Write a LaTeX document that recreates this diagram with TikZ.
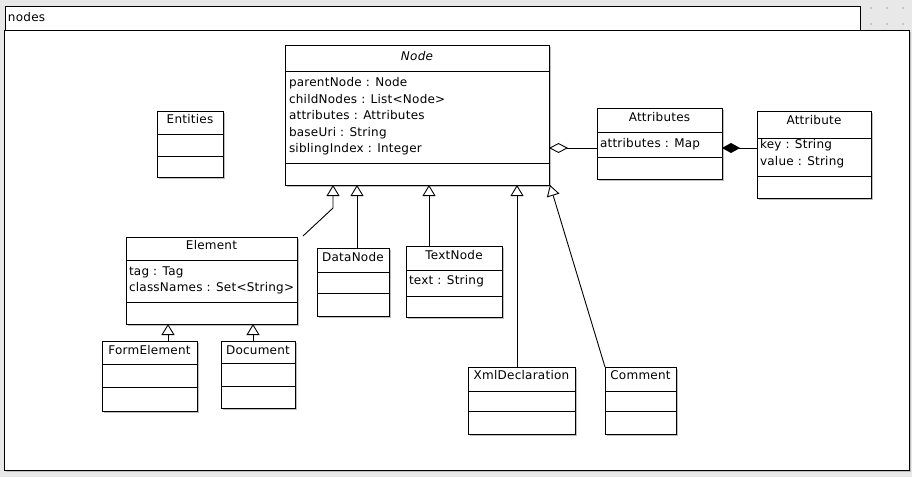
\documentclass[tikz,border=0pt]{standalone}
\usepackage{fontspec}
\setmainfont[LetterSpace=2]{DejaVu Sans}
\usetikzlibrary{arrows.meta}
\definecolor{bgc}{RGB}{232,232,232}
\definecolor{shadowc}{RGB}{190,190,190}
\definecolor{dotc}{RGB}{200,200,200}
\newcommand{\umlclass}[7]{%
  \fill[shadowc] (#2+2,#3+2) rectangle (#4+2,#5+2);
  \node[classbox, minimum width={(#4-#2)*1pt}, minimum height={(#5-#3)*1pt}, anchor=north west] (#1) at (#2,#3) {};
  \draw[boxline] (#2,#6) -- (#4,#6) (#2,#7) -- (#4,#7);
}
\begin{document}
\begin{tikzpicture}[x=1pt,y=-1pt,
  classbox/.style={draw=black, fill=white, line width=1pt, inner sep=0pt, outer sep=0pt},
  boxline/.style={draw=black, line width=1pt},
  txt/.style={inner sep=0pt, outer sep=0pt, font=\fontsize{12}{14}\selectfont},
  title/.style={txt, anchor=base},
  attr/.style={txt, anchor=base west},
  gen/.style={draw=black, line width=0.9pt, -{Triangle[open, fill=white, length=11pt, width=13pt]}},
  agg/.style={draw=black, line width=0.9pt, -{Diamond[open, fill=white, length=19pt, width=10pt]}},
  comp/.style={draw=black, line width=0.9pt, -{Diamond[length=18pt, width=10pt]}}]
\useasboundingbox (0,0) rectangle (912,477);
\fill[bgc] (0,0) rectangle (912,477);
% background dots
\foreach \dx in {870,886,902} {\foreach \dy in {7,23} {\fill[dotc] (\dx,\dy) rectangle (\dx+1.5,\dy+1.5);}}
% package tab and frame
\node[draw=black, fill=white, line width=1pt, inner sep=0pt, minimum width=855pt, minimum height=24pt, anchor=north west] (tab) at (5,6) {};
\node[attr] (tablabel) at (8,21.5) {nodes};
\fill[shadowc] (6,32) rectangle (911,472);
\node[draw=black, fill=white, line width=1pt, inner sep=0pt, minimum width=905pt, minimum height=440pt, anchor=north west] (frame) at (4,30) {};
% classes
\umlclass{Node}{285}{45}{549}{185}{71}{163}
\node[title] (Node-t) at (417,60.5) {\itshape Node};
\node[attr] (Node-a1) at (289,86.5) {parentNode : Node};
\node[attr] (Node-a2) at (289,103) {childNodes : List<Node>};
\node[attr] (Node-a3) at (289,119.5) {attributes : Attributes};
\node[attr] (Node-a4) at (289,136) {baseUri : String};
\node[attr] (Node-a5) at (289,152.5) {siblingIndex : Integer};

\umlclass{Entities}{157}{111}{223}{177}{134}{156}
\node[title] (Entities-t) at (190,123.5) {Entities};

\umlclass{Attributes}{597}{108}{722}{179}{132}{157}
\node[title] (Attributes-t) at (659.5,121.5) {Attributes};
\node[attr] (Attributes-a1) at (600,147.5) {attributes : Map};

\umlclass{Attribute}{757}{111}{871}{198}{138}{176}
\node[title] (Attribute-t) at (814,124.5) {Attribute};
\node[attr] (Attribute-a1) at (760,148.5) {key : String};
\node[attr] (Attribute-a2) at (760,165.5) {value : String};

\umlclass{Element}{126}{237}{297}{324}{260}{302}
\node[title] (Element-t) at (211.5,249.5) {Element};
\node[attr] (Element-a1) at (129,275) {tag : Tag};
\node[attr] (Element-a2) at (129,291) {classNames : Set<String>};

\umlclass{DataNode}{317}{248}{389}{316}{272}{293}
\node[title] (DataNode-t) at (353,261.5) {DataNode};

\umlclass{TextNode}{406}{246}{502}{317}{270}{296}
\node[title] (TextNode-t) at (454,259.5) {TextNode};
\node[attr] (TextNode-a1) at (409,284.5) {text : String};

\umlclass{FormElement}{102}{341}{197}{411}{364}{387}
\node[title] (FormElement-t) at (149.5,354.5) {FormElement};

\umlclass{Document}{221}{341}{295}{408}{363}{386}
\node[title] (Document-t) at (258,354.5) {Document};

\umlclass{XmlDeclaration}{468}{367}{575}{434}{391}{411}
\node[title] (XmlDeclaration-t) at (521.5,379.5) {XmlDeclaration};

\umlclass{Comment}{605}{367}{676}{434}{391}{411}
\node[title] (Comment-t) at (640.5,379.5) {Comment};

% generalizations
\coordinate (elA) at (303,236);
\coordinate (elB) at (333,208);
\draw[gen] (elA) -- (elB) -- (elB |- Node.south);
\draw[gen] ([xshift=4pt]DataNode.north) -- ([xshift=4pt]DataNode.north |- Node.south);
\draw[gen] ([xshift=-25pt]TextNode.north) -- ([xshift=-25pt]TextNode.north |- Node.south);
\draw[gen] ([xshift=-4.5pt]XmlDeclaration.north) -- ([xshift=-4.5pt]XmlDeclaration.north |- Node.south);
\draw[gen] (Comment.north west) -- ([xshift=1pt]Node.south east);
\draw[gen] ([xshift=18.5pt]FormElement.north) -- ([xshift=18.5pt]FormElement.north |- Element.south);
\draw[gen] ([xshift=-5pt]Document.north) -- ([xshift=-5pt]Document.north |- Element.south);
% associations
\draw[agg] ([yshift=-4.5pt]Attributes.west) -- ([yshift=-4.5pt]Attributes.west -| Node.east);
\draw[comp] ([yshift=6.5pt]Attribute.west) -- ([yshift=6.5pt]Attribute.west -| Attributes.east);
\end{tikzpicture}
\end{document}
